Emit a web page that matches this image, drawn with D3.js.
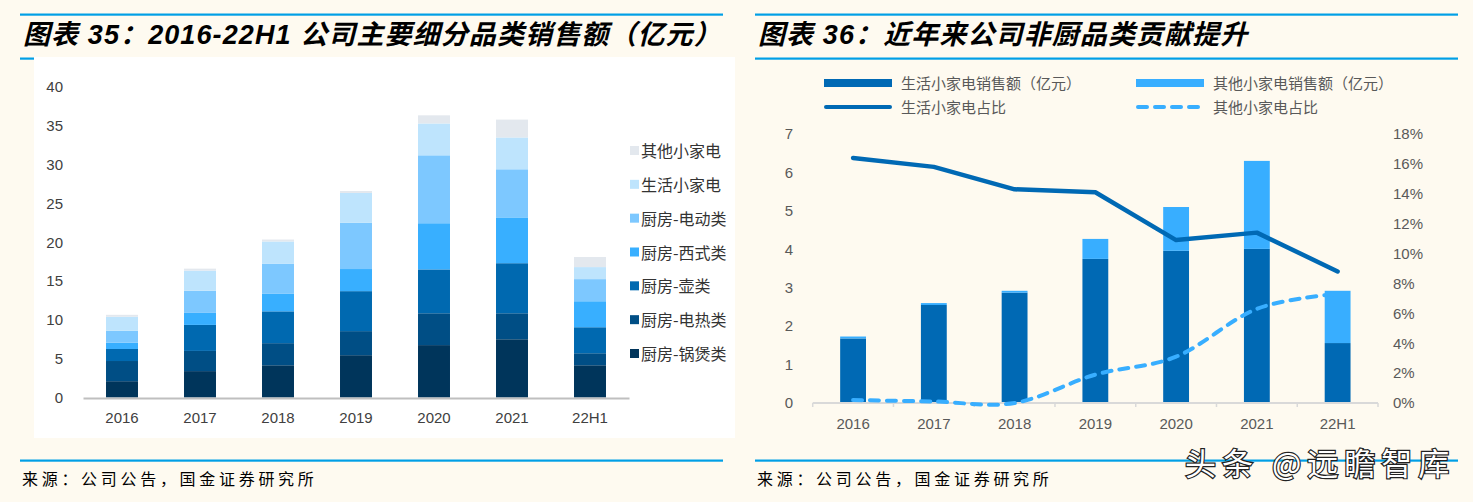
<!DOCTYPE html>
<html>
<head>
<meta charset="utf-8">
<script src="https://cdn.jsdelivr.net/npm/d3@7"></script>
<style>
  html, body { margin: 0; padding: 0; background: #FEFAF0; }
  svg { display: block; }
  text { font-family: "Liberation Sans", Arial, "Noto Sans CJK SC", sans-serif; }
</style>
</head>
<body>
<svg id="chart" width="1473" height="502"></svg>
<script>
// ---------- Data: left chart (亿元) ----------
const categories = ["2016", "2017", "2018", "2019", "2020", "2021", "22H1"];
const seriesNames = ["厨房-锅煲类", "厨房-电热类", "厨房-壶类", "厨房-西式类", "厨房-电动类", "生活小家电", "其他小家电"];
const guobao   = [2.1, 3.4, 4.15, 5.45, 6.75, 7.5, 4.15];
const dianre   = [2.6, 2.6, 2.85, 3.1, 4.1, 3.35, 1.55];
const hu       = [1.55, 3.35, 4.1, 5.15, 5.65, 6.45, 3.35];
const xishi    = [0.8, 1.55, 2.3, 2.85, 5.95, 5.9, 3.35];
const diandong = [1.55, 2.85, 3.85, 5.95, 8.75, 6.2, 2.85];
const shenghuo = [1.8, 2.6, 2.85, 3.85, 4.1, 4.1, 1.55];
const qita     = [0.25, 0.25, 0.25, 0.25, 1.05, 2.3, 1.3];
const leftTicks = [0, 5, 10, 15, 20, 25, 30, 35, 40];

// ---------- Data: right chart ----------
const lifeSales  = [1.68, 2.55, 2.87, 3.75, 3.96, 4.01, 1.56];   // 亿元
const otherSales = [0.05, 0.05, 0.05, 0.52, 1.14, 2.29, 1.36];   // 亿元
const lifeShare  = [16.4, 15.8, 14.3, 14.1, 10.9, 11.4, 8.8];    // %
const otherShare = [0.2, 0.1, 0.0, 1.9, 3.1, 6.3, 7.3];          // %
const rightLeftTicks = [0, 1, 2, 3, 4, 5, 6, 7];
const rightRightTicks = [0, 2, 4, 6, 8, 10, 12, 14, 16, 18];

const leftColors = ["#00355B", "#004E85", "#0069B0", "#38AFFF", "#7DC8FF", "#BEE4FD", "#E3E8EE"];
const lifeColor = "#0069B4";
const otherColor = "#38AEFF";
const lineBlue = "#009FE6";

const svg = d3.select("#chart");

// ---------- frame lines & titles ----------
function frame(x0, x1, title) {
  svg.append("rect").attr("x", x0).attr("y", 13.5).attr("width", x1 - x0).attr("height", 2.2).attr("fill", lineBlue);
  svg.append("rect").attr("x", x0).attr("y", 57.5).attr("width", x1 - x0).attr("height", 2.2).attr("fill", lineBlue);
  svg.append("rect").attr("x", x0).attr("y", 459.5).attr("width", x1 - x0).attr("height", 2.2).attr("fill", lineBlue);
  svg.append("text").attr("x", x0 + 3).attr("y", 44)
    .attr("font-size", 27).attr("font-weight", "bold").attr("font-style", "italic")
    .attr("letter-spacing", 1.1)
    .attr("fill", "#000").text(title);
  svg.append("text").attr("x", x0 + 2).attr("y", 485)
    .attr("font-size", 16).attr("fill", "#000").attr("letter-spacing", 3.7)
    .style("font-family", "'Noto Sans CJK SC', sans-serif")
    .text("来源：公司公告，国金证券研究所");
}
frame(20, 723, "图表 35：2016-22H1 公司主要细分品类销售额（亿元）");
frame(755, 1458, "图表 36：近年来公司非厨品类贡献提升");

// ---------- LEFT CHART ----------
svg.append("rect").attr("x", 34).attr("y", 57).attr("width", 701).attr("height", 381).attr("fill", "#FFFFFF");

const xL = d3.scaleBand().domain(categories).range([83, 629]).paddingInner(0.59).paddingOuter(0.295);
const yL = d3.scaleLinear().domain([0, 40]).range([397.5, 87]);

const leftSeries = [guobao, dianre, hu, xishi, diandong, shenghuo, qita];
const rows = categories.map((c, i) => {
  const r = { cat: c };
  seriesNames.forEach((s, k) => r[s] = leftSeries[k][i]);
  return r;
});
const stacked = d3.stack().keys(seriesNames)(rows);

const gL = svg.append("g");
stacked.forEach((layer, k) => {
  gL.append("g").attr("fill", leftColors[k])
    .selectAll("rect").data(layer).join("rect")
    .attr("x", d => xL(d.data.cat))
    .attr("width", xL.bandwidth())
    .attr("y", d => yL(d[1]))
    .attr("height", d => yL(d[0]) - yL(d[1]));
});

// y axis (labels only)
const yAxisL = d3.axisLeft(yL).tickValues(leftTicks).tickSize(0).tickPadding(0);
const gyL = svg.append("g").attr("transform", "translate(63,0)").call(yAxisL);
gyL.select(".domain").remove();
gyL.selectAll("text").attr("font-size", 15).attr("fill", "#404040")
  .style("font-family", "'Liberation Sans', Arial, sans-serif");

// x axis
const xAxisL = d3.axisBottom(xL).tickSize(0).tickPadding(14);
const gxL = svg.append("g").attr("transform", "translate(0,398)").call(xAxisL);
gxL.select(".domain").attr("stroke", "#BFBFBF").attr("stroke-width", 1.8);
gxL.selectAll("text").attr("font-size", 15).attr("fill", "#404040")
  .style("font-family", "'Liberation Sans', Arial, sans-serif");

// legend
const legendOrder = d3.range(seriesNames.length).reverse();
const legY = d3.scalePoint().domain(legendOrder).range([151, 354]);
const lg = svg.append("g");
legendOrder.forEach(k => {
  const yy = legY(k);
  lg.append("rect").attr("x", 630).attr("y", yy - 5).attr("width", 9).attr("height", 9).attr("fill", leftColors[k]);
  lg.append("text").attr("x", 641).attr("y", yy + 6).attr("font-size", 16).attr("fill", "#333")
    .style("font-family", "'Noto Sans CJK SC', sans-serif").text(seriesNames[k]);
});

// ---------- RIGHT CHART ----------
const xR = d3.scaleBand().domain(categories).range([812.7, 1378]).paddingInner(0.68).paddingOuter(0.34);
const yR1 = d3.scaleLinear().domain([0, 7]).range([403, 134]);
const yR2 = d3.scaleLinear().domain([0, 18]).range([403, 134]);

const gR = svg.append("g");
gR.selectAll("rect.life").data(categories).join("rect").attr("class", "life")
  .attr("x", c => xR(c)).attr("width", xR.bandwidth())
  .attr("y", (c, i) => yR1(lifeSales[i]))
  .attr("height", (c, i) => yR1(0) - yR1(lifeSales[i]))
  .attr("fill", lifeColor);
gR.selectAll("rect.other").data(categories).join("rect").attr("class", "other")
  .attr("x", c => xR(c)).attr("width", xR.bandwidth())
  .attr("y", (c, i) => yR1(lifeSales[i] + otherSales[i]))
  .attr("height", (c, i) => yR1(lifeSales[i]) - yR1(lifeSales[i] + otherSales[i]))
  .attr("fill", otherColor);

// x axis with boundary ticks
const gxR = svg.append("g").attr("transform", "translate(0,403)");
gxR.append("line").attr("x1", 812.7).attr("x2", 1378).attr("y1", 0).attr("y2", 0)
  .attr("stroke", "#D9D9D9").attr("stroke-width", 2);
const bounds = categories.map(c => xR(c) - xR.step() * xR.paddingInner() / 2).concat([1378]);
gxR.selectAll("line.tk").data(bounds).join("line").attr("class", "tk")
  .attr("x1", d => d).attr("x2", d => d).attr("y1", 0).attr("y2", 4)
  .attr("stroke", "#D9D9D9").attr("stroke-width", 1.5);
gxR.selectAll("text").data(categories).join("text")
  .attr("x", c => xR(c) + xR.bandwidth() / 2).attr("y", 26)
  .attr("text-anchor", "middle").attr("font-size", 15).attr("fill", "#595959").text(c => c);

// y axes labels
const gyR1 = svg.append("g").attr("transform", "translate(793,0)")
  .call(d3.axisLeft(yR1).tickValues(rightLeftTicks).tickSize(0).tickPadding(0).tickFormat(d3.format("d")));
gyR1.select(".domain").remove();
gyR1.selectAll("text").attr("font-size", 15).attr("fill", "#595959")
  .style("font-family", "'Liberation Sans', Arial, sans-serif");

const gyR2 = svg.append("g").attr("transform", "translate(1393,0)")
  .call(d3.axisRight(yR2).tickValues(rightRightTicks).tickSize(0).tickPadding(0).tickFormat(d => d + "%"));
gyR2.select(".domain").remove();
gyR2.selectAll("text").attr("font-size", 15).attr("fill", "#595959")
  .style("font-family", "'Liberation Sans', Arial, sans-serif");

// lines
const cx = c => xR(c) + xR.bandwidth() / 2;
const lifeLine = d3.line().x((d, i) => cx(categories[i])).y(d => yR2(d)).curve(d3.curveLinear);
const otherLine = d3.line().x((d, i) => cx(categories[i])).y(d => yR2(d)).curve(d3.curveCardinal.tension(0));
svg.append("path").attr("d", otherLine(otherShare)).attr("fill", "none")
  .attr("stroke", otherColor).attr("stroke-width", 4).attr("stroke-dasharray", "9,8").attr("stroke-linecap", "round");
svg.append("path").attr("d", lifeLine(lifeShare)).attr("fill", "none")
  .attr("stroke", lifeColor).attr("stroke-width", 4.5).attr("stroke-linecap", "round").attr("stroke-linejoin", "round");

// legend right
const lgR = svg.append("g").style("font-family", "'Noto Sans CJK SC', sans-serif");
const legItems = [
  { x: 824, y: 83, type: "bar", color: lifeColor, label: "生活小家电销售额（亿元）" },
  { x: 1136, y: 83, type: "bar", color: otherColor, label: "其他小家电销售额（亿元）" },
  { x: 824, y: 107, type: "line", color: lifeColor, label: "生活小家电占比" },
  { x: 1136, y: 107, type: "dash", color: otherColor, label: "其他小家电占比" }
];
legItems.forEach(it => {
  if (it.type === "bar") {
    lgR.append("rect").attr("x", it.x).attr("y", it.y - 4).attr("width", 68).attr("height", 8).attr("fill", it.color);
  } else {
    lgR.append("line").attr("x1", it.x + 2).attr("x2", it.x + 66).attr("y1", it.y).attr("y2", it.y)
      .attr("stroke", it.color).attr("stroke-width", 4).attr("stroke-linecap", "round")
      .attr("stroke-dasharray", it.type === "dash" ? "9,8" : null);
  }
  lgR.append("text").attr("x", it.x + 77).attr("y", it.y + 5.5).attr("font-size", 15)
    .attr("fill", "#595959").text(it.label);
});

// watermark
svg.append("text").attr("x", 1185).attr("y", 475).attr("font-size", 31)
  .attr("letter-spacing", 6)
  .style("font-family", "'Noto Sans CJK SC', sans-serif")
  .attr("fill", "#FFFFFF").attr("stroke", "#222").attr("stroke-width", 2.4)
  .attr("paint-order", "stroke").text("头条 @远瞻智库");
</script>
</body>
</html>
